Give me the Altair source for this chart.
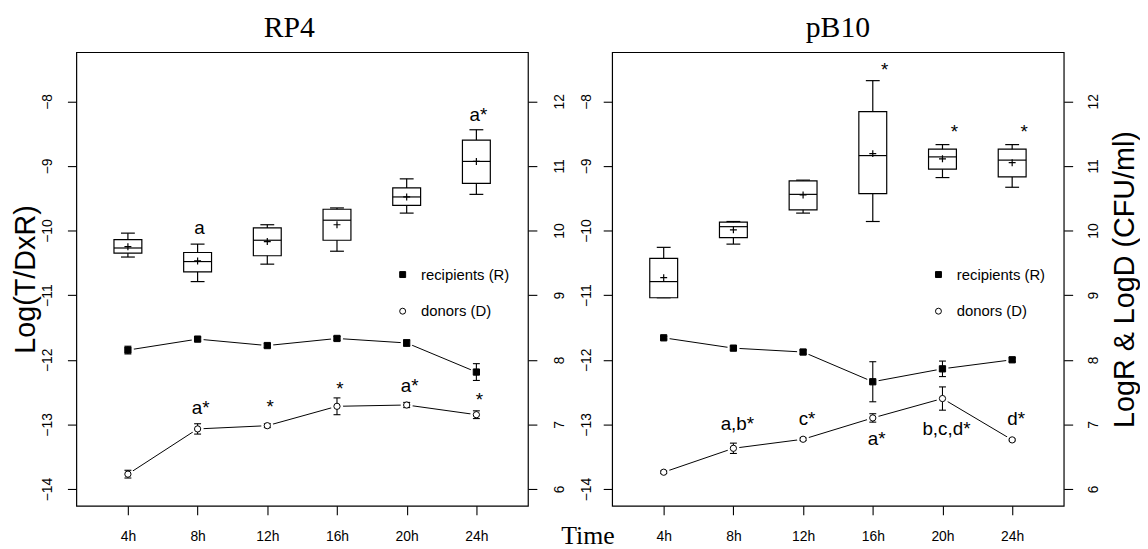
import json
import altair as alt
import pandas as pd

# ---------------- data ----------------
times = ["4h", "8h", "12h", "16h", "20h", "24h"]
series_names = ["recipients (R)", "donors (D)"]

# RP4 box plots: Log(T/DxR)
rp4_wlo = [-10.41, -10.79, -10.52, -10.32, -9.73, -9.44]
rp4_q1 = [-10.35, -10.64, -10.39, -10.15, -9.61, -9.27]
rp4_med = [-10.27, -10.48, -10.15, -9.84, -9.48, -8.93]
rp4_q3 = [-10.14, -10.34, -9.96, -9.67, -9.34, -8.60]
rp4_whi = [-10.04, -10.21, -9.91, -9.65, -9.20, -8.44]
rp4_mean = [-10.25, -10.47, -10.17, -9.91, -9.48, -8.93]
rp4_box_lab = ["", "a", "", "", "", "a*"]
rp4_box_lab_y = [-10.0, -9.96, -10.0, -10.0, -10.0, -8.21]

# RP4 LogR & LogD
rp4_recip = [8.15, 8.32, 8.22, 8.33, 8.26, 7.81]
rp4_recip_err = [0.06, 0.03, 0.03, 0.03, 0.05, 0.13]
rp4_donor = [6.23, 6.93, 6.98, 7.28, 7.30, 7.15]
rp4_donor_err = [0.06, 0.08, 0.03, 0.13, 0.04, 0.06]
rp4_line_lab = ["", "a*", "*", "*", "a*", "*"]
rp4_line_lab_y = [7.0, 7.25, 7.27, 7.55, 7.60, 7.37]

# pB10 box plots
pb_wlo = [-11.04, -10.21, -9.73, -9.86, -9.18, -9.33]
pb_q1 = [-11.04, -10.11, -9.68, -9.43, -9.05, -9.17]
pb_med = [-10.79, -9.94, -9.44, -8.84, -8.86, -8.91]
pb_q3 = [-10.43, -9.87, -9.23, -8.16, -8.74, -8.74]
pb_whi = [-10.26, -9.86, -9.22, -7.68, -8.67, -8.67]
pb_mean = [-10.73, -9.99, -9.45, -8.81, -8.89, -8.95]
pb_box_lab = ["", "", "", "*", "*", "*"]
pb_box_lab_y = [-10.0, -10.0, -10.0, -7.52, -8.47, -8.47]

# pB10 LogR & LogD
pb_recip = [8.34, 8.18, 8.12, 7.66, 7.86, 8.00]
pb_recip_err = [0.02, 0.03, 0.03, 0.31, 0.12, 0.03]
pb_donor = [6.26, 6.63, 6.77, 7.10, 7.40, 6.76]
pb_donor_err = [0.02, 0.08, 0.02, 0.065, 0.18, 0.015]
pb_line_lab = ["", "a,b*", "c*", "a*", "b,c,d*", "d*"]
pb_line_lab_y = [7.0, 7.00, 7.08, 6.78, 6.93, 7.08]

# ---------------- styling ----------------
SANS = "Liberation Sans"
SERIF = "Liberation Serif"
W, H = 456, 458
DOM_L = [-14.26, -7.24]
DOM_R = [5.74, 12.76]
DOM_X = [0.26, 6.74]
label_expr = json.dumps(times) + "[datum.value - 1]"

xs = alt.Scale(domain=DOM_X, nice=False, zero=False)
yls = alt.Scale(domain=DOM_L, nice=False, zero=False)
yrs = alt.Scale(domain=DOM_R, nice=False, zero=False)


def panel(title, title_dx, box, box_lab, box_lab_y, box_lab_dx,
          recip, recip_err, donor, donor_err, line_lab, line_lab_y, line_lab_dx,
          left_title, right_title, x_title, lpad, rpad):
    x_kw = dict(values=list(range(1, 7)), labelExpr=label_expr, grid=False,
                domain=False, tickSize=9, tickColor="black", tickWidth=1.1, labelFont=SANS,
                labelFontSize=14, labelColor="black", labelPadding=15)
    if x_title:
        x_axis = alt.Axis(title=x_title, titleFont=SERIF, titleFontSize=26,
                          titleFontWeight="normal", titleColor="black", titleX=-25,
                          titleY=30, titleBaseline="middle", titleAlign="center", **x_kw)
    else:
        x_axis = alt.Axis(title=None, **x_kw)

    left_kw = dict(values=list(range(-14, -7)), grid=False, domain=False, tickSize=9,
                   tickColor="black", tickWidth=1.1, labelFont=SANS, labelFontSize=14,
                   labelColor="black", labelAngle=270, labelAlign="center",
                   labelBaseline="bottom", labelPadding=lpad)
    if left_title:
        left_axis = alt.Axis(title=left_title, titleFont=SANS, titleFontSize=29,
                             titleFontWeight="normal", titleColor="black", titleAngle=270,
                             titleAlign="center", titleBaseline="middle", titleX=-51,
                             titleY=H / 2, **left_kw)
    else:
        left_axis = alt.Axis(title=None, **left_kw)

    right_kw = dict(values=list(range(6, 13)), grid=False, domain=False, tickSize=9,
                    tickColor="black", tickWidth=1.1, labelFont=SANS, labelFontSize=14,
                    labelColor="black", labelAngle=270, labelAlign="center",
                    labelBaseline="top", labelPadding=rpad, orient="right")
    if right_title:
        right_axis = alt.Axis(title=right_title, titleFont=SANS, titleFontSize=29,
                              titleFontWeight="normal", titleColor="black", titleAngle=270,
                              titleAlign="center", titleBaseline="middle", titleX=61,
                              titleY=H / 2, **right_kw)
    else:
        right_axis = alt.Axis(title=None, **right_kw)

    def X(field):
        return alt.X(field, type="quantitative", scale=xs, axis=x_axis)

    def YL(field):
        return alt.Y(field, type="quantitative", scale=yls, axis=left_axis)

    def YR(field):
        return alt.Y(field, type="quantitative", scale=yrs, axis=right_axis)

    wlo, q1, med, q3, whi, mean = box
    bdf = pd.DataFrame({"idx": list(range(1, 7)), "wlo": wlo, "q1": q1, "med": med,
                        "q3": q3, "whi": whi, "mean": mean,
                        "lab": box_lab, "laby": box_lab_y})
    base = alt.Chart(bdf).transform_calculate(x1="datum.idx - 0.2", x2="datum.idx + 0.2")

    whisk = base.mark_rule(color="black", strokeWidth=1.2).encode(
        x=X("idx"), y=YL("wlo"), y2="whi")
    caps = base.transform_fold(["wlo", "whi"], as_=["k", "v"]).mark_tick(
        orient="horizontal", size=14, thickness=1.2, color="black", opacity=1).encode(
        x=X("idx"), y=YL("v"))
    boxes = base.mark_rect(fill="white", stroke="black", strokeWidth=1.2).encode(
        x=X("x1"), x2="x2", y=YL("q1"), y2="q3")
    meds = base.mark_rule(color="black", strokeWidth=1.2).encode(
        x=X("x1"), x2="x2", y=YL("med"))
    means = base.mark_point(shape="M-1,0L1,0M0,-1L0,1", size=49, stroke="black",
                            strokeWidth=1.2, filled=False, opacity=1).encode(
        x=X("idx"), y=YL("mean"))
    blabs = base.transform_filter("datum.lab != ''").mark_text(
        font=SANS, fontSize=19, color="black", baseline="middle", dx=box_lab_dx).encode(
        x=X("idx"), y=YL("laby"), text="lab:N")
    box_layer = alt.layer(whisk, caps, boxes, meds, means, blabs)

    rows = []
    for s, vals, errs in ((series_names[0], recip, recip_err), (series_names[1], donor, donor_err)):
        for i in range(6):
            rows.append({"idx": i + 1, "series": s, "val": vals[i], "err": errs[i]})
    ldf = pd.DataFrame(rows)
    lbase = alt.Chart(ldf).transform_calculate(lo="datum.val - datum.err",
                                               hi="datum.val + datum.err")

    line = lbase.mark_line(color="black", strokeWidth=1).encode(
        x=X("idx"), y=YR("val"), detail="series:N")
    mask = lbase.mark_point(shape="circle", filled=True, fill="white", size=150,
                            opacity=1, strokeWidth=0).encode(x=X("idx"), y=YR("val"))
    ebar = lbase.mark_rule(color="black", strokeWidth=1.1).encode(
        x=X("idx"), y=YR("lo"), y2="hi")
    ecap = lbase.transform_fold(["lo", "hi"], as_=["k", "v"]).mark_tick(
        orient="horizontal", size=7, thickness=1.1, color="black", opacity=1).encode(
        x=X("idx"), y=YR("v"))
    leg = alt.Legend(title=None, orient="none", legendX=322, legendY=217,
                     labelFont=SANS, labelFontSize=15, labelColor="black",
                     symbolSize=36, labelOffset=11, rowPadding=21, padding=0,
                     symbolStrokeWidth=1)
    pts = lbase.mark_point(filled=True, strokeWidth=1, size=40, opacity=1).encode(
        x=X("idx"), y=YR("val"),
        shape=alt.Shape("series:N", scale=alt.Scale(domain=series_names,
                                                    range=["square", "circle"]), legend=leg),
        fill=alt.Fill("series:N", scale=alt.Scale(domain=series_names,
                                                  range=["black", "white"]), legend=leg),
        stroke=alt.Stroke("series:N", scale=alt.Scale(domain=series_names,
                                                      range=["black", "black"]), legend=leg))
    labdf = pd.DataFrame({"idx": list(range(1, 7)), "lab": line_lab, "laby": line_lab_y})
    llabs = alt.Chart(labdf).transform_filter("datum.lab != ''").mark_text(
        font=SANS, fontSize=19, color="black", baseline="middle", dx=line_lab_dx).encode(
        x=X("idx"), y=YR("laby"), text="lab:N")
    line_layer = alt.layer(line, mask, ebar, ecap, pts, llabs)

    return alt.layer(box_layer, line_layer).resolve_scale(y="independent").properties(
        width=W, height=H,
        title=alt.TitleParams(title, font=SERIF, fontSize=30, fontWeight="normal",
                              color="black", baseline="alphabetic", offset=-14.6,
                              frame="group", anchor="middle", dx=title_dx))


left = panel("RP4", -13, (rp4_wlo, rp4_q1, rp4_med, rp4_q3, rp4_whi, rp4_mean),
             rp4_box_lab, rp4_box_lab_y, 2,
             rp4_recip, rp4_recip_err, rp4_donor, rp4_donor_err,
             rp4_line_lab, rp4_line_lab_y, 3,
             "Log(T/DxR)", None, None, 13, 16)
right = panel("pB10", 0, (pb_wlo, pb_q1, pb_med, pb_q3, pb_whi, pb_mean),
              pb_box_lab, pb_box_lab_y, 12,
              pb_recip, pb_recip_err, pb_donor, pb_donor_err,
              pb_line_lab, pb_line_lab_y, 4,
              None, "LogR & LogD (CFU/ml)", "Time", 10, 14)

chart = alt.hconcat(left, right, spacing=85, bounds="flush").resolve_scale(
    shape="independent", fill="independent", stroke="independent").resolve_legend(
    shape="independent", fill="independent", stroke="independent").properties(
    padding={"left": 3, "top": 2, "right": 0, "bottom": 0}, background="white"
).configure_view(stroke="black", strokeWidth=1.2)

chart.save("out.html", embed_options={"renderer": "svg", "actions": False})
